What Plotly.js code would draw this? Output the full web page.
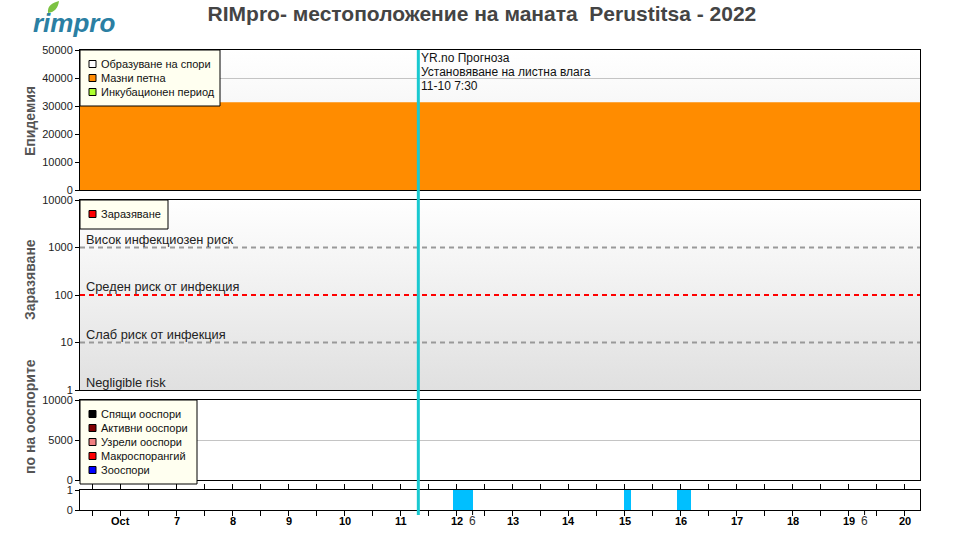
<!DOCTYPE html>
<html>
<head>
<meta charset="utf-8">
<script src="https://cdn.plot.ly/plotly-3.0.1.min.js"></script>
<style>html,body{margin:0;padding:0;background:#fff;}#chart{width:960px;height:535px;}</style>
</head>
<body>
<div id="chart"></div>
<script>
// ---------- DATA ----------
const xStart = '2022-10-05 06:30';
const xEnd = '2022-10-20 06:30';
const dayTicks = ['2022-10-06','2022-10-07','2022-10-08','2022-10-09','2022-10-10','2022-10-11','2022-10-12',
  '2022-10-13','2022-10-14','2022-10-15','2022-10-16','2022-10-17','2022-10-18','2022-10-19','2022-10-20'];
const dayLabels = ['Oct','7','8','9','10','11','12','13','14','15','16','17','18','19','20'];
const weekTicks = ['2022-10-12 06:45','2022-10-19 06:45'];
const weekLabels = ['6','6'];

// Epidemic panel
const epiX = [xStart, xEnd];
const mazniPetna = [31300, 31300];
const epiTicks = [0, 10000, 20000, 30000, 40000, 50000];
const epiLegend = ['Образуване на спори','Мазни петна','Инкубационен период'];
const epiLegendColors = ['#ffffff','#ff8c00','#adff2f'];

// Infection panel
const infTicks = [1, 10, 100, 1000, 10000];
const riskLevels = [10, 100, 1000];
const riskColors = ['#999999','#ff0000','#999999'];
const riskLabels = ['Слаб риск от инфекция','Среден риск от инфекция','Висок инфекциозен риск'];
const negligibleLabel = 'Negligible risk';
const infLegend = ['Заразяване'];
const infLegendColors = ['#ff0000'];

// Oospore panel
const oosTicks = [0, 5000, 10000];
const oosLegend = ['Спящи ооспори','Активни ооспори','Узрели ооспори','Макроспорангий','Зооспори'];
const oosLegendColors = ['#000000','#800000','#f08080','#ff0000','#0000ff'];

// Leaf wetness (bottom strip)
const wetTicks = [0, 1];
const wetStart = ['2022-10-11 22:30','2022-10-14 23:30','2022-10-15 22:30'];
const wetEnd   = ['2022-10-12 07:00','2022-10-15 02:30','2022-10-16 04:30'];

// Forecast marker
const forecastTime = '2022-10-11 07:30';
const forecastText = ['YR.no Прогноза','Установяване на листна влага','11-10 7:30'];

// ---------- HELPERS ----------
const PL = 80, PR = 920, PT = 50, PB = 510;
const px = x => (x - PL) / (PR - PL);
const py = y => (PB - y) / (PB - PT);
const FONT = 'Liberation Sans, Arial, sans-serif';
const toMs = s => new Date(s.replace(' ', 'T')).getTime();

// ---------- TRACES ----------
const traces = [];
traces.push({
  type: 'scatter', mode: 'lines', x: epiX, y: mazniPetna, xaxis: 'x', yaxis: 'y',
  fill: 'tozeroy', fillcolor: '#ff8c00', line: {width: 0, color: '#ff8c00'},
  showlegend: false, hoverinfo: 'skip'
});
riskLevels.forEach((lv, i) => {
  traces.push({
    type: 'scatter', mode: 'lines', x: [xStart, xEnd], y: [lv, lv], xaxis: 'x', yaxis: 'y2',
    line: {color: riskColors[i], width: 2, dash: '5px,4px'}, showlegend: false, hoverinfo: 'skip'
  });
});
traces.push({
  type: 'scatter', mode: 'lines', x: [xStart, xEnd], y: [null, null], xaxis: 'x', yaxis: 'y3',
  showlegend: false, hoverinfo: 'skip'
});
const wetCenters = wetStart.map((s, i) => new Date((toMs(s) + toMs(wetEnd[i])) / 2));
const wetWidths = wetStart.map((s, i) => toMs(wetEnd[i]) - toMs(s));
traces.push({
  type: 'bar', x: wetCenters, y: wetStart.map(() => 1), width: wetWidths, xaxis: 'x', yaxis: 'y4',
  marker: {color: '#00bfff', line: {width: 0}}, showlegend: false, hoverinfo: 'skip'
});

// ---------- SHAPES / ANNOTATIONS ----------
const shapes = [];
const annotations = [];

// forecast line
shapes.push({type: 'line', xref: 'x', yref: 'paper', x0: forecastTime, x1: forecastTime,
  y0: py(515), y1: 1, line: {color: '#19c9d0', width: 3}, layer: 'above'});
forecastText.forEach((t, i) => {
  annotations.push({xref: 'x', yref: 'paper', x: forecastTime, y: py(58 + 14 * i), xanchor: 'left', yanchor: 'middle',
    xshift: 1, align: 'left', showarrow: false, text: t,
    font: {family: FONT, size: 12, color: '#111'}});
});

// day labels (bold) under the bottom axis
dayTicks.forEach((t, i) => {
  annotations.push({xref: 'x', yref: 'paper', x: t, y: py(521), yanchor: 'middle', showarrow: false,
    text: dayLabels[i], font: {family: FONT, size: 11, color: '#000', weight: 'bold'}});
});

// week markers
weekTicks.forEach((t, i) => {
  shapes.push({type: 'line', xref: 'x', yref: 'paper', x0: t, x1: t, y0: py(510), y1: py(515),
    line: {color: '#000', width: 1}});
  annotations.push({xref: 'x', yref: 'paper', x: t, y: py(521), yanchor: 'middle', showarrow: false,
    text: weekLabels[i], font: {family: FONT, size: 12, color: '#333'}});
});

// legend boxes
function legendBox(x0, y0, x1, y1, labels, colors, rowY0) {
  shapes.push({type: 'rect', xref: 'paper', yref: 'paper', x0: px(x0), x1: px(x1), y0: py(y1), y1: py(y0),
    fillcolor: '#fffff0', line: {color: '#000', width: 1}, layer: 'above'});
  labels.forEach((lab, i) => {
    const cy = rowY0 + i * 14;
    shapes.push({type: 'rect', xref: 'paper', yref: 'paper', x0: px(89), x1: px(96), y0: py(cy + 3.5), y1: py(cy - 3.5),
      fillcolor: colors[i], line: {color: '#000', width: 1}, layer: 'above'});
    annotations.push({xref: 'paper', yref: 'paper', x: px(99), y: py(cy), xanchor: 'left', yanchor: 'middle',
      showarrow: false, text: lab, font: {family: FONT, size: 11, color: '#111'}});
  });
}
legendBox(80, 50, 220, 106, epiLegend, epiLegendColors, 64);
legendBox(80, 200, 168, 229, infLegend, infLegendColors, 214);
legendBox(80, 400, 197, 484, oosLegend, oosLegendColors, 414);

// risk labels
riskLevels.forEach((lv, i) => {
  annotations.push({xref: 'paper', yref: 'y2', x: px(84), y: Math.log10(lv), xanchor: 'left', yanchor: 'bottom',
    yshift: -1, showarrow: false, text: riskLabels[i], font: {family: FONT, size: 12.8, color: '#222'}});
});
annotations.push({xref: 'paper', yref: 'paper', x: px(84), y: py(383), xanchor: 'left', yanchor: 'middle',
  showarrow: false, text: negligibleLabel, font: {family: FONT, size: 12.8, color: '#222'}});

// axis titles
[['Епидемия', 121], ['Заразяване', 280], ['по на ооспорите', 417]].forEach(([t, cy]) => {
  annotations.push({xref: 'paper', yref: 'paper', x: px(30), y: py(cy), xanchor: 'center', yanchor: 'middle',
    textangle: -90, showarrow: false, text: t, font: {family: FONT, size: 14, color: '#555', weight: 'bold'}});
});

// logo
annotations.push({xref: 'paper', yref: 'paper', x: px(31), y: py(23), xanchor: 'left', yanchor: 'middle',
  showarrow: false, text: '<i>rimpro</i>', font: {family: FONT, size: 26, color: '#2b7fa3', weight: 'bold'}});
shapes.push({type: 'path', xref: 'paper', yref: 'paper',
  path: `M${px(48)},${py(13)} C${px(47)},${py(5)} ${px(53)},${py(3)} ${px(59)},${py(1)} C${px(58)},${py(8)} ${px(55)},${py(12)} ${px(48)},${py(13)} Z`,
  fillcolor: '#7cc242', line: {width: 0}});

// background gradients
function grad(top, bottom, y0, y1) {
  const svg = `<svg xmlns="http://www.w3.org/2000/svg" width="10" height="100" preserveAspectRatio="none"><defs><linearGradient id="g" x1="0" y1="0" x2="0" y2="1"><stop offset="0" stop-color="${top}"/><stop offset="1" stop-color="${bottom}"/></linearGradient></defs><rect width="10" height="100" fill="url(#g)"/></svg>`;
  return {source: 'data:image/svg+xml;base64,' + btoa(svg), xref: 'paper', yref: 'paper',
    x: 0, y: py(y0), sizex: 1, sizey: py(y0) - py(y1), xanchor: 'left', yanchor: 'top', sizing: 'stretch', layer: 'below'};
}
const images = [grad('#ffffff', '#ececec', 50, 190), grad('#ffffff', '#e0e0e0', 200, 390)];

// ---------- LAYOUT ----------
const yCommon = {showline: true, linecolor: '#000', linewidth: 1, mirror: true, ticks: 'outside', ticklen: 4,
  tickcolor: '#000', tickfont: {family: FONT, size: 11, color: '#222'}, zeroline: false, anchor: 'x', fixedrange: true,
  tickmode: 'array'};
const layout = {
  width: 960, height: 535,
  margin: {l: PL, r: 960 - PR, t: PT, b: 535 - PB},
  paper_bgcolor: '#ffffff', plot_bgcolor: 'rgba(0,0,0,0)',
  showlegend: false,
  title: {text: 'RIMpro- местоположение на маната  Perustitsa - 2022', xref: 'container', x: 0.502, y: 1 - 14 / 535,
    yanchor: 'middle', font: {family: FONT, size: 21, color: '#444', weight: 'bold'}},
  xaxis: {type: 'date', range: [xStart, xEnd], anchor: 'y4', showline: true, linecolor: '#000', linewidth: 1,
    mirror: 'all', showgrid: false, zeroline: false, tickmode: 'array', tickvals: dayTicks, ticktext: dayLabels,
    showticklabels: false, ticks: 'outside', ticklen: 5, tickcolor: '#000',
    minor: {dtick: 12 * 3600 * 1000, tick0: '2022-10-06', ticks: 'outside', ticklen: 5, tickcolor: '#000', showgrid: false},
    fixedrange: true},
  yaxis: Object.assign({}, yCommon, {domain: [py(190), 1], range: [0, 50000], tickvals: epiTicks,
    ticktext: epiTicks.map(String), showgrid: true, gridcolor: '#c4c4c4'}),
  yaxis2: Object.assign({}, yCommon, {domain: [py(390), py(200)], type: 'log', range: [0, 4],
    tickvals: infTicks, ticktext: infTicks.map(String), showgrid: false}),
  yaxis3: Object.assign({}, yCommon, {domain: [py(480), py(400)], range: [0, 10000], tickvals: oosTicks,
    ticktext: oosTicks.map(String), showgrid: true, gridcolor: '#c4c4c4'}),
  yaxis4: Object.assign({}, yCommon, {domain: [0, py(490)], range: [0, 1], tickvals: wetTicks,
    ticktext: wetTicks.map(String), showgrid: false}),
  bargap: 0,
  shapes: shapes, annotations: annotations, images: images
};

Plotly.newPlot('chart', traces, layout, {displayModeBar: false, staticPlot: true});
</script>
</body>
</html>
